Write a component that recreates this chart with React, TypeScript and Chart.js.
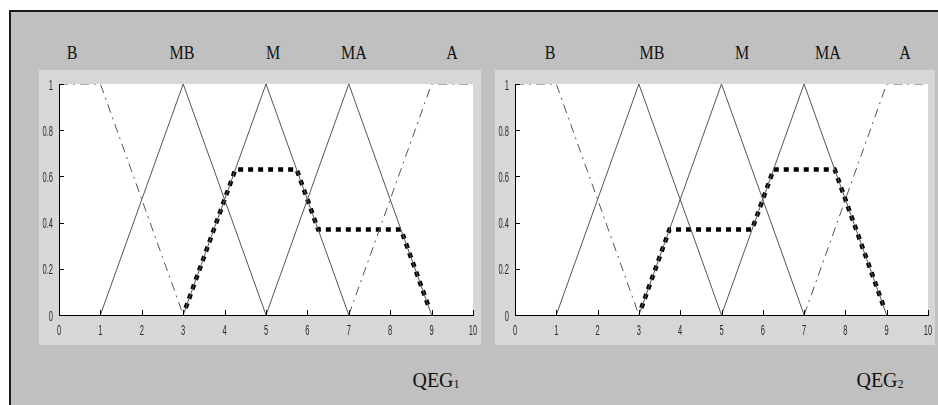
import React, { useEffect, useRef } from "react";
import { Chart, registerables } from "chart.js";

Chart.register(...registerables);

// ---- data ----
const TERMS = ["B", "MB", "M", "MA", "A"];
const X_TICKS = [0, 1, 2, 3, 4, 5, 6, 7, 8, 9, 10];
const X_TICK_LABELS = ["0", "1", "2", "3", "4", "5", "6", "7", "8", "9", "10"];
const Y_TICKS = [0, 0.2, 0.4, 0.6, 0.8, 1];
const Y_TICK_LABELS = ["0", "0.2", "0.4", "0.6", "0.8", "1"];

const B_X = [0, 1, 3];
const B_Y = [1, 1, 0];
const MB_X = [1, 3, 5];
const MB_Y = [0, 1, 0];
const M_X = [3, 5, 7];
const M_Y = [0, 1, 0];
const MA_X = [5, 7, 9];
const MA_Y = [0, 1, 0];
const A_X = [7, 9, 10];
const A_Y = [0, 1, 1];

const QEG1_X = [3.06, 4.26, 5.74, 6.26, 8.26, 8.94];
const QEG1_Y = [0.03, 0.63, 0.63, 0.37, 0.37, 0.03];
const QEG2_X = [3.06, 3.74, 5.74, 6.26, 7.74, 8.94];
const QEG2_Y = [0.03, 0.37, 0.37, 0.63, 0.63, 0.03];

const zip = (xs: number[], ys: number[]) => xs.map((x, i) => ({ x, y: ys[i] }));

const THIN = "#555555";
const LABEL_FONT = "15px 'Liberation Sans', Arial, sans-serif";
const SQUEEZE = 0.5;

const panelPlugin = {
  id: "panelPlugin",
  beforeDraw(chart: any) {
    const { ctx, chartArea: a, width, height } = chart;
    ctx.save();
    ctx.fillStyle = "#d5d8d4";
    ctx.fillRect(0, 0, width, height);
    ctx.fillStyle = "#ffffff";
    ctx.fillRect(a.left, a.top, a.right - a.left, a.bottom - a.top);
    ctx.restore();
  },
  afterDraw(chart: any) {
    const { ctx, chartArea: a, scales } = chart;
    ctx.save();
    // inward tick marks
    ctx.strokeStyle = "#000";
    ctx.lineWidth = 1;
    ctx.beginPath();
    X_TICKS.forEach((v) => {
      const px = Math.round(scales.x.getPixelForValue(v)) + 0.5;
      ctx.moveTo(px, a.bottom);
      ctx.lineTo(px, a.bottom - 5);
    });
    Y_TICKS.forEach((v) => {
      const py = Math.round(scales.y.getPixelForValue(v)) + 0.5;
      ctx.moveTo(a.left, py);
      ctx.lineTo(a.left + 5, py);
    });
    ctx.stroke();
    // condensed tick labels, positioned by the scales
    ctx.font = LABEL_FONT;
    ctx.fillStyle = "#2a2a2a";
    ctx.textBaseline = "alphabetic";
    X_TICKS.forEach((v, i) => {
      const px = scales.x.getPixelForValue(v);
      ctx.save();
      ctx.translate(px, a.bottom + 20);
      ctx.scale(SQUEEZE, 1);
      ctx.textAlign = "center";
      ctx.fillText(X_TICK_LABELS[i], 0, 0);
      ctx.restore();
    });
    Y_TICKS.forEach((v, i) => {
      const py = scales.y.getPixelForValue(v);
      ctx.save();
      ctx.translate(a.left - 6, py + 5.5);
      ctx.scale(SQUEEZE, 1);
      ctx.textAlign = "right";
      ctx.fillText(Y_TICK_LABELS[i], 0, 0);
      ctx.restore();
    });
    ctx.restore();
  },
};

function Panel({ qx, qy, width, rightPad }: { qx: number[]; qy: number[]; width: number; rightPad: number }) {
  const ref = useRef<HTMLCanvasElement>(null);
  useEffect(() => {
    const thin = (xs: number[], ys: number[], dash: number[] = []) => ({
      data: zip(xs, ys),
      borderColor: THIN,
      borderWidth: 1,
      borderDash: dash,
      pointRadius: 0,
      tension: 0,
      fill: false,
    });
    const chart = new Chart(ref.current as HTMLCanvasElement, {
      type: "line",
      data: {
        datasets: [
          thin(B_X, B_Y, [9, 5, 2, 5]),
          thin(MB_X, MB_Y),
          thin(M_X, M_Y),
          thin(MA_X, MA_Y),
          thin(A_X, A_Y, [9, 5, 2, 5]),
          {
            data: zip(qx, qy),
            borderColor: "#000",
            borderWidth: 4.5,
            borderDash: [5, 5],
            borderCapStyle: "butt",
            pointRadius: 0,
            tension: 0,
            fill: false,
          },
        ] as any,
      },
      options: {
        responsive: false,
        animation: false,
        devicePixelRatio: 1,
        layout: { padding: { top: 14, right: rightPad, left: 0, bottom: 0 } },
        plugins: { legend: { display: false }, tooltip: { enabled: false } },
        scales: {
          x: {
            type: "linear",
            min: 0,
            max: 10,
            afterFit: (s: any) => {
              s.height = 30;
            },
            afterBuildTicks: (s: any) => {
              s.ticks = X_TICKS.map((v) => ({ value: v }));
            },
            grid: { display: false, drawTicks: false },
            border: { display: true, color: "#000", width: 1 },
            ticks: { display: false },
          },
          y: {
            type: "linear",
            min: 0,
            max: 1,
            afterFit: (s: any) => {
              s.width = 20;
            },
            afterBuildTicks: (s: any) => {
              s.ticks = Y_TICKS.map((v) => ({ value: v }));
            },
            grid: { display: false, drawTicks: false },
            border: { display: true, color: "#000", width: 1 },
            ticks: { display: false },
          },
        },
      } as any,
      plugins: [panelPlugin],
    });
    return () => chart.destroy();
  }, []);
  return <canvas ref={ref} width={width} height={275} style={{ display: "block" }} />;
}

const serif = "'Liberation Serif', 'Times New Roman', serif";

function TermLabels({ xs }: { xs: number[] }) {
  return (
    <>
      {TERMS.map((t, i) => (
        <div
          key={t + i}
          style={{
            position: "absolute",
            left: xs[i],
            top: 45,
            transform: "translateX(-50%) scaleY(1.2)",
            fontFamily: serif,
            fontSize: 16,
            lineHeight: "16px",
            color: "#111",
            whiteSpace: "nowrap",
          }}
        >
          {t}
        </div>
      ))}
    </>
  );
}

function QegLabel({ cx, sub }: { cx: number; sub: string }) {
  return (
    <div
      style={{
        position: "absolute",
        left: cx,
        top: 370,
        transform: "translateX(-50%)",
        fontFamily: serif,
        fontSize: 20,
        lineHeight: "20px",
        color: "#111",
        whiteSpace: "nowrap",
      }}
    >
      QEG<span style={{ fontSize: 12, verticalAlign: "-1px" }}>{sub}</span>
    </div>
  );
}

export default function App() {
  return (
    <div style={{ position: "fixed", left: 0, top: 0, width: 938, height: 405, background: "#fff", overflow: "hidden" }}>
      <div
        style={{
          position: "absolute",
          left: 9,
          top: 10,
          width: 929,
          height: 395,
          background: "#c0c0c0",
          borderTop: "2px solid #1a1a1a",
          borderLeft: "2px solid #1a1a1a",
          boxSizing: "border-box",
        }}
      />
      <TermLabels xs={[72, 182, 273, 354, 452]} />
      <TermLabels xs={[550, 652, 742, 828, 905]} />
      <div style={{ position: "absolute", left: 39, top: 70 }}>
        <Panel qx={QEG1_X} qy={QEG1_Y} width={442} rightPad={8} />
      </div>
      <div style={{ position: "absolute", left: 495, top: 70 }}>
        <Panel qx={QEG2_X} qy={QEG2_Y} width={440} rightPad={7} />
      </div>
      <QegLabel cx={436} sub="1" />
      <QegLabel cx={880} sub="2" />
    </div>
  );
}
